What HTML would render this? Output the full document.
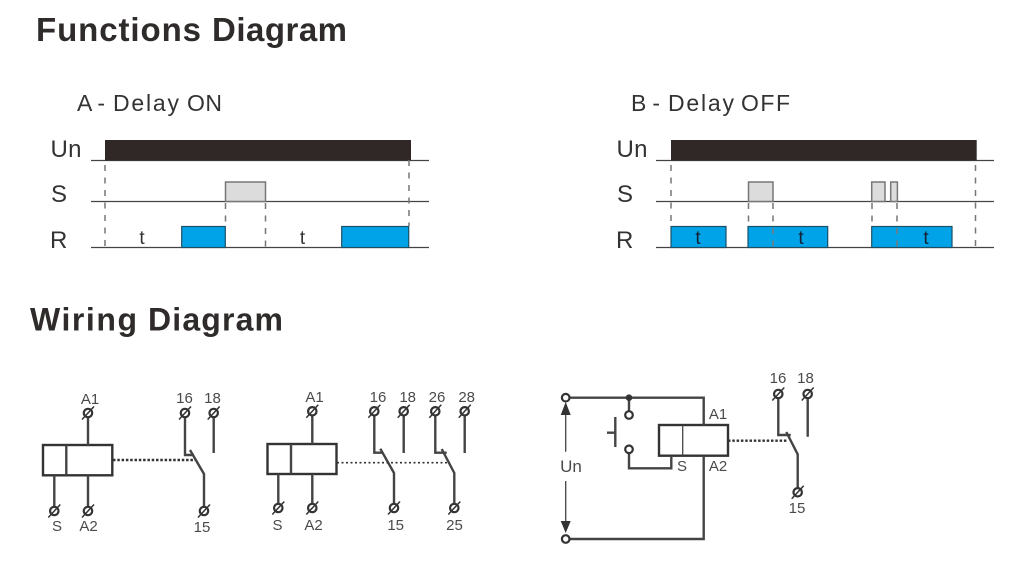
<!DOCTYPE html>
<html><head><meta charset="utf-8"><style>
html,body{margin:0;padding:0;background:#fff;width:1017px;height:565px;overflow:hidden}
svg{display:block;filter:blur(0.35px)}
text{font-family:"Liberation Sans",sans-serif;fill:#444}
.h{font-weight:bold;font-size:33px;fill:#2f2b2b}
.h2{font-weight:bold;font-size:32px;fill:#2f2b2b}
.s{font-size:23px;fill:#333}
.l{font-size:24px;fill:#333}
.t{font-size:19px;fill:#333;text-anchor:middle}
.w{font-size:15px;text-anchor:middle;fill:#4a4a4a}
.g{stroke:#444;stroke-width:1.3;fill:none}
.d{stroke:#777;stroke-width:1.5;stroke-dasharray:6 6.500;fill:none}
.p{fill:#dcdcdc;stroke:#777;stroke-width:1.500}
.b{fill:#00a3e8;stroke:#1c4f66;stroke-width:1.200}
.k{stroke:#444;stroke-width:2.400;fill:none}
.o{stroke:#333;stroke-width:2.400;stroke-dasharray:2.500 1.800;fill:none}
.c{fill:#fff;stroke:#333;stroke-width:2.200}
</style></head><body>
<svg width="1017" height="565" viewBox="0 0 1017 565" xmlns="http://www.w3.org/2000/svg">
<defs>
<g id="tm"><circle r="4.200" fill="#fff" stroke="#333" stroke-width="2.200"/><line x1="-6" y1="6.500" x2="6" y2="-6.500" stroke="#333" stroke-width="1.500"/></g>
</defs>
<text class="h" x="36" y="41" textLength="165" lengthAdjust="spacing">Functions</text>
<text class="h" x="212" y="41" textLength="135" lengthAdjust="spacing">Diagram</text>
<text class="h2" x="30" y="330.500" textLength="107" lengthAdjust="spacing">Wiring</text>
<text class="h2" x="148" y="330.500" textLength="135" lengthAdjust="spacing">Diagram</text>
<text class="s" x="77" y="111" textLength="28" lengthAdjust="spacing">A -</text>
<text class="s" x="113" y="111" textLength="66" lengthAdjust="spacing">Delay</text>
<text class="s" x="187" y="111" textLength="35" lengthAdjust="spacing">ON</text>
<text class="s" x="631" y="111" textLength="29" lengthAdjust="spacing">B -</text>
<text class="s" x="668" y="111" textLength="66" lengthAdjust="spacing">Delay</text>
<text class="s" x="741" y="111" textLength="49" lengthAdjust="spacing">OFF</text>

<!-- A timing -->
<text class="l" x="50.500" y="157" textLength="31" lengthAdjust="spacing">Un</text>
<text class="l" x="51" y="202">S</text>
<text class="l" x="50" y="248">R</text>
<path class="g" d="M91 160.500H429M91 201.500H429M91 247.500H429"/>
<rect x="105" y="140" width="306" height="20.500" fill="#2f2826"/>
<rect class="p" x="225.500" y="182" width="40" height="19.500"/>
<rect class="b" x="181.700" y="226.500" width="43.600" height="21"/>
<rect class="b" x="341.700" y="226.500" width="67" height="21"/>
<path class="d" d="M105 165V247M225.500 203V224M265.500 203V247M409 160V226"/>
<text class="t" x="142" y="244">t</text>
<text class="t" x="302.500" y="244">t</text>

<!-- B timing -->
<text class="l" x="616.500" y="157" textLength="31" lengthAdjust="spacing">Un</text>
<text class="l" x="617" y="202">S</text>
<text class="l" x="616" y="248">R</text>
<path class="g" d="M656 160.500H994M656 201.500H994M656 247.500H994"/>
<rect x="671" y="140" width="305.700" height="20.500" fill="#2f2826"/>
<rect class="p" x="748.500" y="182" width="24.500" height="19.500"/>
<rect class="p" x="871.700" y="182" width="13.300" height="19.500"/>
<rect class="p" x="890.700" y="182" width="6.700" height="19.500"/>
<rect class="b" x="671" y="226.500" width="55" height="21"/>
<rect class="b" x="748" y="226.500" width="79.700" height="21"/>
<rect class="b" x="871.700" y="226.500" width="80.300" height="21"/>
<path class="d" d="M671 165V226M748.500 203V224M773 203V247M872 203V224M897 203V247M975.500 165V247"/>
<text class="t" x="698" y="244" style="fill:#123">t</text>
<text class="t" x="801" y="244" style="fill:#123">t</text>
<text class="t" x="926" y="244" style="fill:#123">t</text>

<!-- Wiring 1 -->
<rect x="43" y="445" width="69.300" height="30.300" fill="none" stroke="#333" stroke-width="2.400"/>
<path class="k" d="M66.300 445V475.300M88 413V445M54.300 475.300V511M88 475.300V511M185 413V455H194M190 450L204 474V511M213.700 413V453"/>
<path class="o" d="M113 460H195"/>
<use href="#tm" x="88" y="413"/><use href="#tm" x="54.300" y="511"/><use href="#tm" x="88" y="511"/>
<use href="#tm" x="185" y="413"/><use href="#tm" x="213.700" y="413"/><use href="#tm" x="204" y="511"/>
<text class="w" x="90" y="404">A1</text><text class="w" x="184.500" y="403">16</text><text class="w" x="212.500" y="403">18</text>
<text class="w" x="57" y="531">S</text><text class="w" x="88.500" y="531">A2</text><text class="w" x="202" y="532">15</text>

<!-- Wiring 2 -->
<rect x="267.500" y="444" width="69" height="30" fill="none" stroke="#333" stroke-width="2.400"/>
<path class="k" d="M291 444V474M312.300 411.300V444M278.300 474V508M312.300 474V508M374.300 411.300V452.700H383M380.300 448.700L394 473V508M403.700 411.300V453M435.300 411.300V452.700H446.700M441.700 449L454.300 473V508M464.700 411.300V453"/>
<path class="o" d="M337 462.700H450" style="stroke-width:1.600;stroke-dasharray:2 2.500"/>
<use href="#tm" x="312.300" y="411.300"/><use href="#tm" x="278.300" y="508"/><use href="#tm" x="312.300" y="508"/>
<use href="#tm" x="374.300" y="411.300"/><use href="#tm" x="403.700" y="411.300"/><use href="#tm" x="435.300" y="411.300"/><use href="#tm" x="464.700" y="411.300"/>
<use href="#tm" x="394" y="508"/><use href="#tm" x="454.300" y="508"/>
<text class="w" x="314.500" y="402">A1</text><text class="w" x="378" y="402">16</text><text class="w" x="407.700" y="402">18</text><text class="w" x="437" y="402">26</text><text class="w" x="466.700" y="402">28</text>
<text class="w" x="277.500" y="530">S</text><text class="w" x="313.500" y="530">A2</text><text class="w" x="395.700" y="530">15</text><text class="w" x="454.500" y="530">25</text>

<!-- Wiring 3 -->
<rect x="659" y="425" width="69" height="30.700" fill="none" stroke="#333" stroke-width="2.400"/>
<path class="k" d="M682.700 425V455.700" style="stroke-width:1.300"/>
<path class="k" d="M569 397.700H703.700V425M703.700 455.700V539H569M629 397.700V412M629 453V468.300H671.300V455.700M615.300 417V447M607 432.700H615.300M778.300 394V435H790.700M786.300 432L797.700 454.300V492.300M807.700 394V436.700"/>
<path class="g" d="M565.700 415V451.700M565.700 481V521.700"/>
<path d="M565.700 402L570.700 415H560.700ZM565.700 533L570.700 521H560.700Z" fill="#333"/>
<circle cx="629" cy="397.700" r="3.300" fill="#333"/>
<circle class="c" cx="565.700" cy="397.700" r="3.800"/><circle class="c" cx="565.700" cy="539" r="3.800"/>
<circle class="c" cx="629" cy="415" r="3.800"/><circle class="c" cx="629" cy="449.300" r="3.800"/>
<path class="o" d="M728 440.700H787"/>
<use href="#tm" x="778.300" y="394"/><use href="#tm" x="807.700" y="394"/><use href="#tm" x="797.700" y="492.300"/>
<text class="w" x="571" y="472" style="font-size:17px">Un</text>
<text class="w" x="718" y="419">A1</text><text class="w" x="682" y="471">S</text><text class="w" x="718" y="471">A2</text>
<text class="w" x="778" y="383">16</text><text class="w" x="805.500" y="383">18</text><text class="w" x="797" y="513">15</text>
</svg>
</body></html>
